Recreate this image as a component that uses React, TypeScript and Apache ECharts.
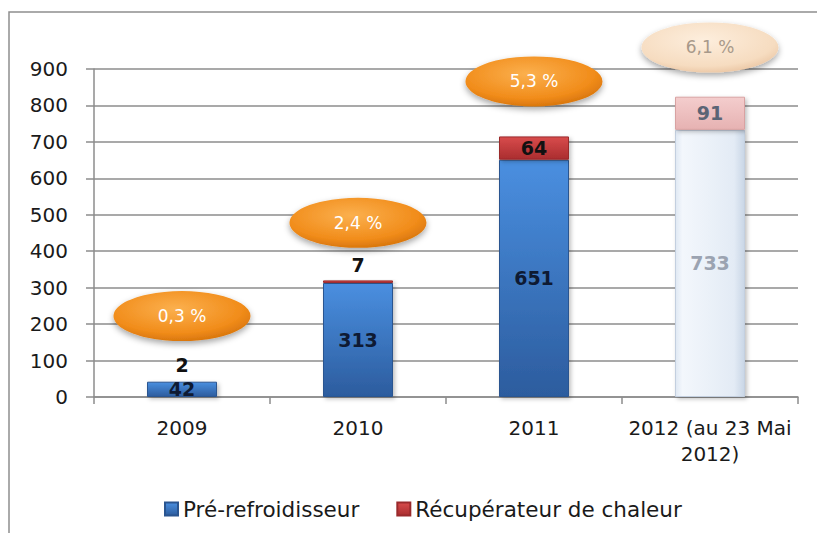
import React, { useEffect, useRef } from "react";
import * as echarts from "echarts";

const categories = ["2009", "2010", "2011", "2012 (au 23 Mai\n2012)"];
const preRefroidisseur = [42, 313, 651, 733];
const recuperateur = [2, 7, 64, 91];
const shareLabels = ["0,3 %", "2,4 %", "5,3 %", "6,1 %"];
const yTicks = [0, 100, 200, 300, 400, 500, 600, 700, 800, 900];

// layout: how far above the stack each percentage badge sits (in value units)
const badgeLift = [178, 158, 151, 135];

const FONT = "DejaVu Sans";

export default function App() {
  const ref = useRef<HTMLDivElement>(null);

  useEffect(() => {
    if (!ref.current) return;
    const chart = echarts.init(ref.current, undefined, { renderer: "svg" });
    const vg = (a: string, b: string) =>
      new echarts.graphic.LinearGradient(0, 0, 0, 1, [
        { offset: 0, color: a },
        { offset: 1, color: b },
      ]);
    const shadow = {
      shadowBlur: 4,
      shadowColor: "rgba(0,0,0,0.25)",
      shadowOffsetX: 2,
      shadowOffsetY: 2,
    };
    const last = categories.length - 1;

    const blueData = preRefroidisseur.map((v, i) =>
      i === last
        ? {
            value: v,
            itemStyle: {
              color: new echarts.graphic.LinearGradient(0, 0, 1, 0, [
                { offset: 0, color: "#dfe8f3" },
                { offset: 0.1, color: "#f3f7fc" },
                { offset: 0.85, color: "#e3ebf5" },
                { offset: 1, color: "#c9d6e6" },
              ]),
              borderColor: "#c3cfdf",
            },
            label: { color: "#9ba3b1", fontWeight: "bold" },
          }
        : v
    );
    const redData = recuperateur.map((v, i) => {
      if (i === last)
        return {
          value: v,
          itemStyle: { color: vg("#f4cdcd", "#e6b2b2"), borderColor: "#d8a2a2" },
          label: { position: "inside", color: "#5b6475" },
        };
      if (i === 2) return { value: v, label: { position: "inside", color: "#111" } };
      return { value: v, label: { position: "top", distance: 6, color: "#111" } };
    });
    const badgeData = categories.map((_, i) => ({
      value: [i, preRefroidisseur[i] + recuperateur[i] + badgeLift[i]],
      name: shareLabels[i],
      itemStyle:
        i === last
          ? {
              color: new echarts.graphic.RadialGradient(0.45, 0.35, 0.7, [
                { offset: 0, color: "#fdeedd" },
                { offset: 0.75, color: "#f6dcc0" },
                { offset: 1, color: "#e9c3a0" },
              ]),
            }
          : undefined,
      label: i === last ? { color: "#a8998a" } : undefined,
    }));

    chart.setOption({
      animation: false,
      backgroundColor: "#ffffff",
      textStyle: { fontFamily: FONT },
      graphic: [
        {
          type: "rect",
          shape: { x: 9, y: 12, width: 900, height: 600 },
          style: { fill: "none", stroke: "#8e8e8e", lineWidth: 1.5 },
          z: -1,
        },
      ],
      grid: { left: 94, right: 19, top: 69, bottom: 136, containLabel: false },
      legend: {
        data: ["Pré-refroidisseur", "Récupérateur de chaleur"],
        left: 159,
        top: 493,
        itemWidth: 13,
        itemHeight: 13,
        itemGap: 37,
        icon: "rect",
        textStyle: { fontFamily: FONT, fontSize: 21.5, color: "#1a1a1a" },
      },
      xAxis: {
        type: "category",
        data: categories,
        axisLine: { lineStyle: { color: "#8c8c8c", width: 1.5 } },
        axisTick: { show: true, length: 7, lineStyle: { color: "#8c8c8c", width: 1.5 } },
        axisLabel: {
          fontFamily: FONT,
          fontSize: 20,
          color: "#1a1a1a",
          margin: 18,
          lineHeight: 26,
          interval: 0,
        },
      },
      yAxis: {
        type: "value",
        min: yTicks[0],
        max: yTicks[yTicks.length - 1],
        interval: 100,
        axisLine: { show: true, lineStyle: { color: "#8c8c8c", width: 1.5 } },
        axisTick: { show: true, length: 8, lineStyle: { color: "#8c8c8c", width: 1.5 } },
        splitLine: { lineStyle: { color: "#8c8c8c", width: 1.5 } },
        axisLabel: { fontFamily: FONT, fontSize: 20, color: "#1a1a1a", margin: 26 },
      },
      series: [
        {
          name: "Pré-refroidisseur",
          type: "bar",
          stack: "total",
          barWidth: 70,
          color: "#3b78c6",
          data: blueData,
          itemStyle: {
            color: vg("#4a8fe0", "#2c5c9e"),
            borderColor: "#2a5590",
            borderWidth: 1,
            ...shadow,
          },
          label: {
            show: true,
            position: "inside",
            fontFamily: FONT,
            fontSize: 19,
            fontWeight: "bold",
            color: "#0e1a33",
          },
        },
        {
          name: "Récupérateur de chaleur",
          type: "bar",
          stack: "total",
          barWidth: 70,
          color: "#c0393b",
          data: redData,
          itemStyle: {
            color: vg("#d84c4c", "#aa2d2f"),
            borderColor: "#9a2a2c",
            borderWidth: 1,
            ...shadow,
          },
          label: {
            show: true,
            fontFamily: FONT,
            fontSize: 19,
            fontWeight: "bold",
          },
        },
        {
          name: "badges",
          type: "scatter",
          clip: false,
          symbol: "circle",
          symbolSize: [137, 50],
          z: 5,
          data: badgeData,
          itemStyle: {
            opacity: 1,
            color: new echarts.graphic.RadialGradient(0.45, 0.35, 0.7, [
              { offset: 0, color: "#fbb04e" },
              { offset: 0.7, color: "#f18c1a" },
              { offset: 1, color: "#d2700a" },
            ]),
            shadowBlur: 6,
            shadowColor: "rgba(0,0,0,0.35)",
            shadowOffsetY: 3,
          },
          label: {
            show: true,
            position: "inside",
            formatter: (p: any) => p.name,
            fontFamily: FONT,
            fontSize: 17,
            color: "#ffffff",
          },
          emphasis: { disabled: true },
        },
      ],
    });
    return () => chart.dispose();
  }, []);

  return (
    <div
      ref={ref}
      style={{ position: "fixed", left: 0, top: 0, width: 817, height: 533 }}
    />
  );
}
